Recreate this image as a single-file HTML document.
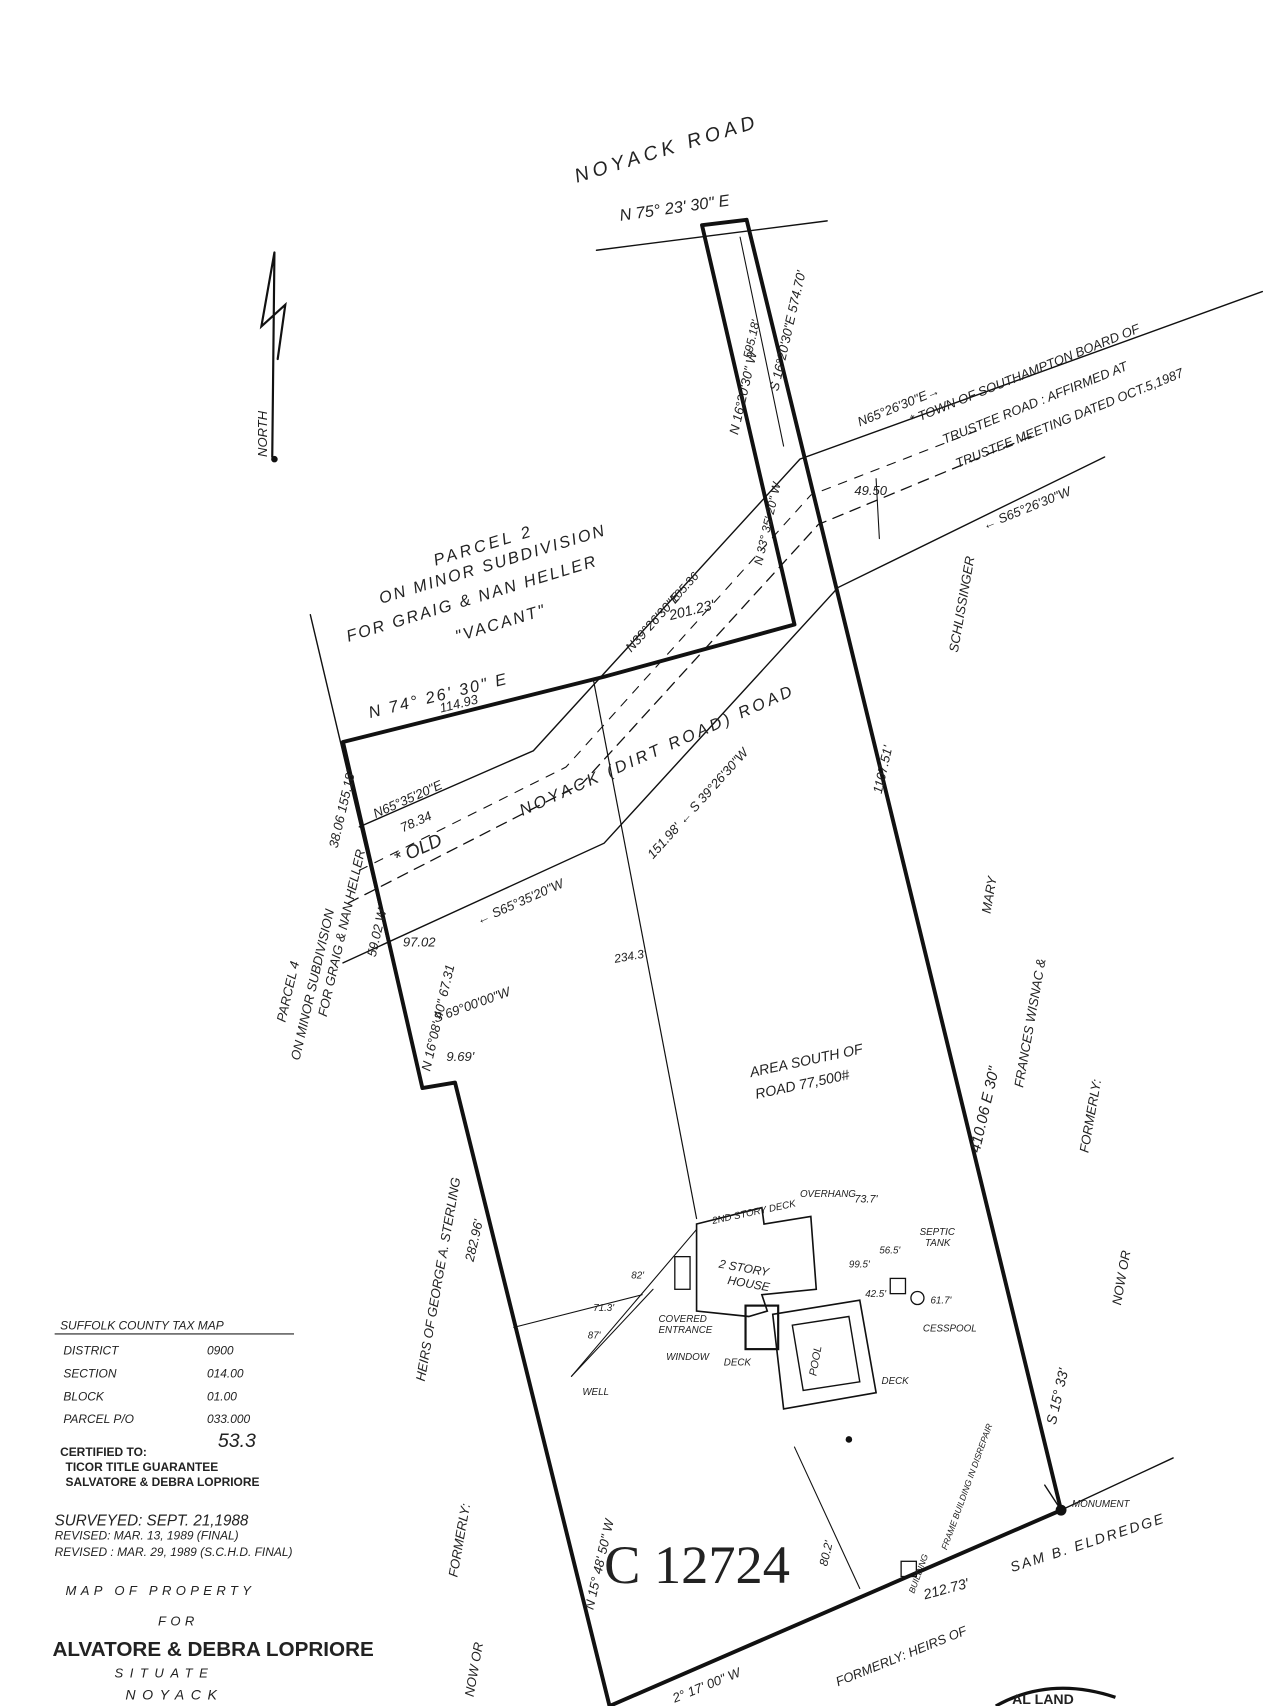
<!DOCTYPE html>
<html><head><meta charset="utf-8"><style>
html,body{margin:0;padding:0;background:#fff;width:1280px;height:1706px;overflow:hidden}
svg{display:block}
text{font-family:"Liberation Sans",sans-serif;fill:#222}
.h{font-family:"Liberation Sans",sans-serif;font-style:italic}
</style></head><body>
<svg width="1280" height="1706" viewBox="0 0 1176 1568" xmlns="http://www.w3.org/2000/svg">
<rect width="1176" height="1568" fill="#fff"/>
<g stroke="#111" fill="none" stroke-linecap="round">
<line x1="548" y1="230" x2="760" y2="203" stroke-width="1.3"/>
<line x1="285" y1="565" x2="388" y2="1000" stroke-width="1.3"/>
<polyline points="330,760 490,690 735,422 1160,268" stroke-width="1.3"/>
<polyline points="315,885 555,775 770,540 1015,420" stroke-width="1.3"/>
<polyline points="320,830 535,720 752,482 950,400" stroke-width="1.2" stroke-dasharray="10,7"/>
<polyline points="330,800 520,705 745,455 900,395" stroke-width="1" stroke-dasharray="8,8"/>
<line x1="545" y1="624" x2="640" y2="1120" stroke-width="1.1"/>
<line x1="975" y1="1388" x2="1078" y2="1340" stroke-width="1.3"/>
<line x1="680" y1="218" x2="720" y2="410" stroke-width="1"/>
<line x1="805" y1="440" x2="808" y2="495" stroke-width="1"/>
<line x1="472" y1="1220" x2="590" y2="1190" stroke-width="1"/>
<line x1="730" y1="1330" x2="790" y2="1460" stroke-width="1"/>
<polyline points="645,207 686,202 975,1388 560,1568 418,995 388,1000 315,682 555,622 730,574 645,207" stroke-width="3.6" stroke-linejoin="round"/>
<path d="M252,232 L250,420 M252,232 L240,300 L262,280 L255,330" stroke-width="2"/>
<path d="M640,1125 L700,1110 L702,1125 L745,1118 L750,1185 L700,1190 L705,1205 L688,1210 L640,1205 Z" stroke-width="1.5"/>
<rect x="620" y="1155" width="14" height="30" stroke-width="1.2"/>
<rect x="685" y="1200" width="30" height="40" stroke-width="2"/>
<path d="M710,1208 L790,1195 L805,1280 L720,1295 Z" stroke-width="1.5"/>
<path d="M728,1218 L780,1210 L790,1270 L738,1278 Z" stroke-width="1.3"/>
<rect x="818" y="1175" width="14" height="14" stroke-width="1.2"/>
<circle cx="843" cy="1193" r="6" stroke-width="1.2"/>
<line x1="640" y1="1130" x2="525" y2="1265" stroke-width="1"/>
<line x1="600" y1="1185" x2="525" y2="1265" stroke-width="1"/>
<rect x="828" y="1435" width="14" height="14" stroke-width="1.2"/>
<path d="M975,1388 L960,1365" stroke-width="1.3"/>
</g>
<circle cx="975" cy="1388" r="5" fill="#111"/>
<circle cx="780" cy="1323" r="3" fill="#111"/>
<circle cx="252" cy="422" r="3" fill="#111"/>
<g class="h" font-size="15">
<text x="530" y="168" transform="rotate(-17 530 168)" font-size="18" letter-spacing="4">NOYACK ROAD</text>
<text x="570" y="203" transform="rotate(-8 570 203)">N 75° 23' 30" E</text>
<text x="245" y="420" transform="rotate(-90 245 420)" font-size="12">NORTH</text>
<text x="400" y="520" transform="rotate(-17 400 520)" letter-spacing="3">PARCEL 2</text>
<text x="350" y="555" transform="rotate(-17 350 555)" letter-spacing="2">ON MINOR SUBDIVISION</text>
<text x="320" y="590" transform="rotate(-17 320 590)" letter-spacing="2">FOR GRAIG &amp; NAN HELLER</text>
<text x="420" y="590" transform="rotate(-17 420 590)" letter-spacing="2">"VACANT"</text>
<text x="340" y="660" transform="rotate(-14 340 660)" letter-spacing="2">N 74° 26' 30" E</text>
<text x="405" y="655" transform="rotate(-14 405 655)" font-size="12">114.93</text>
<text x="616" y="570" transform="rotate(-14 616 570)" font-size="13">201.23'</text>
<text x="580" y="600" transform="rotate(-48 580 600)" font-size="12">N39°26'30"E</text>
<text x="620" y="555" transform="rotate(-48 620 555)" font-size="11">105.36</text>
<text x="345" y="752" transform="rotate(-24 345 752)" font-size="12">N65°35'20"E</text>
<text x="370" y="765" transform="rotate(-24 370 765)" font-size="12">78.34</text>
<text x="480" y="750" transform="rotate(-24 480 750)" letter-spacing="3">NOYACK (DIRT ROAD) ROAD</text>
<text x="365" y="795" transform="rotate(-24 365 795)" font-size="17">* OLD</text>
<text x="600" y="790" transform="rotate(-48 600 790)" font-size="12">151.98' ← S 39°26'30"W</text>
<text x="440" y="850" transform="rotate(-24 440 850)" font-size="12">← S65°35'20"W</text>
<text x="370" y="870" font-size="12">97.02</text>
<text x="790" y="392" transform="rotate(-22 790 392)" font-size="12">N65°26'30"E→</text>
<text x="838" y="390" transform="rotate(-22 838 390)" font-size="12">* TOWN OF SOUTHAMPTON BOARD OF</text>
<text x="868" y="408" transform="rotate(-22 868 408)" font-size="12">TRUSTEE ROAD : AFFIRMED AT</text>
<text x="880" y="430" transform="rotate(-22 880 430)" font-size="12">TRUSTEE MEETING DATED OCT.5,1987</text>
<text x="905" y="487" transform="rotate(-22 905 487)" font-size="12">← S65°26'30"W</text>
<text x="785" y="455" font-size="12">49.50</text>
<text x="880" y="600" transform="rotate(-80 880 600)" font-size="12">SCHLISSINGER</text>
<text x="678" y="400" transform="rotate(-77 678 400)" font-size="12">N 16°20'30" W</text>
<text x="690" y="330" transform="rotate(-77 690 330)" font-size="11">595.18'</text>
<text x="715" y="360" transform="rotate(-77 715 360)" font-size="12">S 16°20'30"E 574.70'</text>
<text x="700" y="520" transform="rotate(-77 700 520)" font-size="11">N 33° 35' 20" W</text>
<text x="810" y="730" transform="rotate(-77 810 730)" font-size="12">1107.51'</text>
<text x="910" y="840" transform="rotate(-80 910 840)" font-size="12">MARY</text>
<text x="940" y="1000" transform="rotate(-80 940 1000)" font-size="12">FRANCES WISNAC &amp;</text>
<text x="1000" y="1060" transform="rotate(-80 1000 1060)" font-size="12">FORMERLY:</text>
<text x="1030" y="1200" transform="rotate(-80 1030 1200)" font-size="12">NOW OR</text>
<text x="900" y="1060" transform="rotate(-77 900 1060)" font-size="14">410.06  E  30"</text>
<text x="970" y="1310" transform="rotate(-77 970 1310)" font-size="13">S 15° 33'</text>
<text x="310" y="780" transform="rotate(-77 310 780)" font-size="12">38.06  155.18'</text>
<text x="345" y="880" transform="rotate(-77 345 880)" font-size="12">59.02 W</text>
<text x="395" y="985" transform="rotate(-77 395 985)" font-size="12">N 16°08' 40"  67.31</text>
<text x="262" y="940" transform="rotate(-77 262 940)" font-size="12">PARCEL 4</text>
<text x="275" y="975" transform="rotate(-77 275 975)" font-size="12">ON MINOR SUBDIVISION</text>
<text x="300" y="935" transform="rotate(-77 300 935)" font-size="12">FOR GRAIG &amp; NAN HELLER</text>
<text x="400" y="940" transform="rotate(-20 400 940)" font-size="12">S 69°00'00"W</text>
<text x="410" y="975" font-size="12">9.69'</text>
<text x="565" y="885" transform="rotate(-10 565 885)" font-size="11">234.3'</text>
<text x="690" y="990" transform="rotate(-12 690 990)" font-size="13" fill="#666">AREA SOUTH OF</text>
<text x="695" y="1010" transform="rotate(-12 695 1010)" font-size="13" fill="#666">ROAD 77,500#</text>
<text x="435" y="1160" transform="rotate(-77 435 1160)" font-size="12">282.96'</text>
<text x="390" y="1270" transform="rotate(-80 390 1270)" font-size="12">HEIRS OF GEORGE A. STERLING</text>
<text x="420" y="1450" transform="rotate(-80 420 1450)" font-size="12">FORMERLY:</text>
<text x="435" y="1560" transform="rotate(-80 435 1560)" font-size="12">NOW OR</text>
<text x="545" y="1480" transform="rotate(-77 545 1480)" font-size="12">N 15° 48' 50" W</text>
<text x="655" y="1125" transform="rotate(-12 655 1125)" font-size="9">2ND STORY DECK</text>
<text x="735" y="1100" font-size="9">OVERHANG</text>
<text x="785" y="1105" font-size="10">73.7'</text>
<text x="660" y="1165" transform="rotate(10 660 1165)" font-size="11">2 STORY</text>
<text x="668" y="1180" transform="rotate(10 668 1180)" font-size="11">HOUSE</text>
<text x="845" y="1135" font-size="9">SEPTIC</text>
<text x="850" y="1145" font-size="9">TANK</text>
<text x="808" y="1152" font-size="9">56.5'</text>
<text x="780" y="1165" font-size="9">99.5'</text>
<text x="795" y="1192" font-size="9">42.5'</text>
<text x="855" y="1198" font-size="9">61.7'</text>
<text x="848" y="1224" font-size="9">CESSPOOL</text>
<text x="605" y="1215" font-size="9">COVERED</text>
<text x="605" y="1225" font-size="9">ENTRANCE</text>
<text x="612" y="1250" font-size="9">WINDOW</text>
<text x="665" y="1255" font-size="9">DECK</text>
<text x="810" y="1272" font-size="9">DECK</text>
<text x="750" y="1265" transform="rotate(-80 750 1265)" font-size="10">POOL</text>
<text x="545" y="1205" font-size="9">71.3'</text>
<text x="540" y="1230" font-size="9">87'</text>
<text x="535" y="1282" font-size="9">WELL</text>
<text x="580" y="1175" font-size="9">82'</text>
<text x="985" y="1385" font-size="9">MONUMENT</text>
<text x="870" y="1425" transform="rotate(-70 870 1425)" font-size="8">FRAME BUILDING IN DISREPAIR</text>
<text x="840" y="1465" transform="rotate(-70 840 1465)" font-size="8">BUILDING</text>
<text x="555" y="1455" font-size="50" font-family="Liberation Serif, serif" style="font-family:'Liberation Serif',serif;font-style:normal" fill="#333">C 12724</text>
<text x="760" y="1440" transform="rotate(-77 760 1440)" font-size="11">80.2'</text>
<text x="850" y="1470" transform="rotate(-15 850 1470)" font-size="13">212.73'</text>
<text x="930" y="1445" transform="rotate(-18 930 1445)" font-size="13" letter-spacing="2">SAM B. ELDREDGE</text>
<text x="770" y="1550" transform="rotate(-22 770 1550)" font-size="12">FORMERLY: HEIRS OF</text>
<text x="620" y="1565" transform="rotate(-22 620 1565)" font-size="12">2° 17' 00"  W</text>
</g>
<g font-size="12">
<text x="55" y="1222" class="h" font-size="11">SUFFOLK COUNTY TAX MAP</text>
<line x1="50" y1="1226" x2="270" y2="1226" stroke="#222" stroke-width="1"/>
<text x="58" y="1245" class="h" font-size="11">DISTRICT</text><text x="190" y="1245" class="h" font-size="11">0900</text>
<text x="58" y="1266" class="h" font-size="11">SECTION</text><text x="190" y="1266" class="h" font-size="11">014.00</text>
<text x="58" y="1287" class="h" font-size="11">BLOCK</text><text x="190" y="1287" class="h" font-size="11">01.00</text>
<text x="58" y="1308" class="h" font-size="11">PARCEL P/O</text><text x="190" y="1308" class="h" font-size="11">033.000</text>
<text x="200" y="1330" font-size="18" class="h">53.3</text>
<text x="55" y="1338" font-weight="bold" font-size="11">CERTIFIED TO:</text>
<text x="60" y="1352" font-weight="bold" font-size="11">TICOR TITLE GUARANTEE</text>
<text x="60" y="1366" font-weight="bold" font-size="11">SALVATORE &amp; DEBRA LOPRIORE</text>
<text x="50" y="1402" class="h" font-size="14">SURVEYED: SEPT. 21,1988</text>
<text x="50" y="1415" class="h" font-size="11">REVISED:   MAR. 13, 1989 (FINAL)</text>
<text x="50" y="1430" class="h" font-size="11">REVISED : MAR. 29, 1989 (S.C.H.D. FINAL)</text>
<text x="60" y="1466" class="h" font-size="12" letter-spacing="4">MAP OF PROPERTY</text>
<text x="145" y="1494" class="h" font-size="12" letter-spacing="4">FOR</text>
<text x="48" y="1522" font-weight="bold" font-size="19">ALVATORE &amp; DEBRA LOPRIORE</text>
<text x="105" y="1542" class="h" font-size="12" letter-spacing="6">SITUATE</text>
<text x="115" y="1562" class="h" font-size="13" letter-spacing="6">NOYACK</text>
</g>
<path d="M915,1568 Q965,1540 1025,1560" stroke="#111" stroke-width="3" fill="none"/>
<text x="930" y="1566" font-size="13" font-weight="bold">AL LAND</text>
</svg>
</body></html>
